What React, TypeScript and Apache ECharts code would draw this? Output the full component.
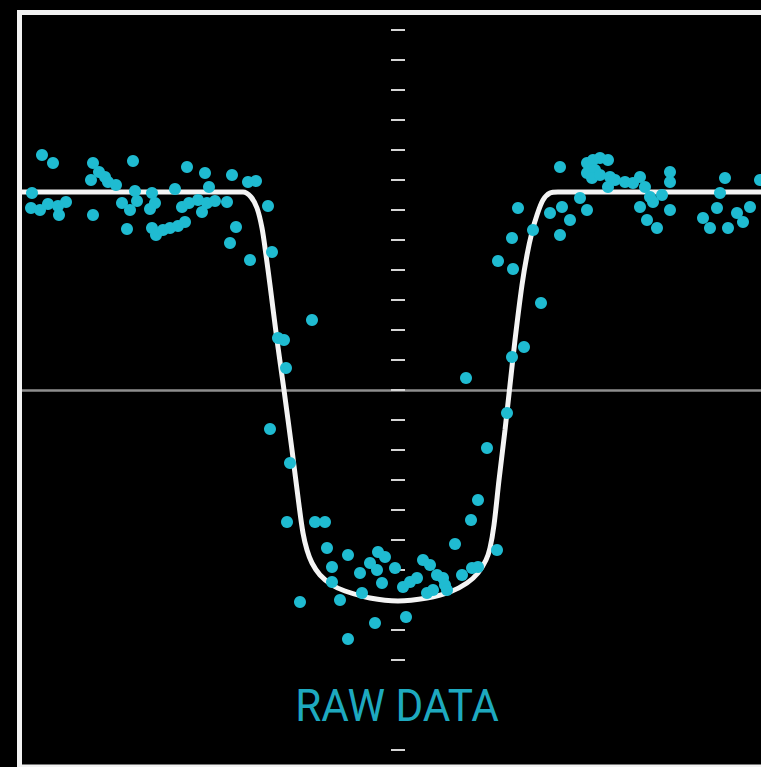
import { useEffect, useRef } from "react";
import * as echarts from "echarts";

// Time axis: minutes from mid-transit. Brightness axis: offset units, one tick every 30.
const X_MIN = -376;
const X_MAX = 363;
const Y_MIN = -360;
const Y_MAX = 360;
const Y_TICK = 30;

// Fitted transit model (white curve): [minutes, brightness]
const modelCurve: [number, number][] = [
  [-376, 198], [-155, 198], [-147, 193], [-141, 182], [-136, 162], [-132, 135],
  [-128, 105], [-121, 50], [-114, 0], [-106, -60], [-99, -115], [-95, -143],
  [-91, -160], [-86, -173], [-78, -185], [-66, -195], [-53, -201], [-28, -208],
  [0, -211], [29, -208], [52, -202], [69, -193], [80, -183], [88, -170],
  [92, -158], [96, -135], [101, -90], [107, -40], [112, 5], [117, 50],
  [124, 105], [129, 135], [134, 158], [139, 175], [145, 190], [152, 197],
  [160, 198], [363, 198],
];

// Measurements before the transit
const preTransit: [number, number][] = [
  [-356, 235], [-345, 227], [-305, 227], [-299, 218], [-293, 213], [-307, 210],
  [-290, 208], [-282, 205], [-265, 229], [-211, 223], [-193, 217], [-166, 215],
  [-150, 208], [-142, 209], [-366, 197], [-367, 182], [-358, 180], [-350, 186],
  [-340, 184], [-332, 188], [-339, 175], [-305, 175], [-276, 187], [-268, 180],
  [-263, 199], [-261, 189], [-271, 161], [-246, 197], [-243, 187], [-248, 181],
  [-246, 162], [-242, 155], [-235, 160], [-228, 162], [-220, 164], [-213, 168],
  [-223, 201], [-216, 183], [-209, 187], [-200, 190], [-191, 187], [-189, 203],
  [-196, 178], [-183, 189], [-171, 188], [-162, 163], [-168, 147], [-148, 130],
  [-130, 184], [-126, 138],
];

// Measurements during ingress, the dip and egress
const inTransit: [number, number][] = [
  [-86, 70], [-120, 52], [-114, 50], [-112, 22], [-128, -39], [-108, -73],
  [-111, -132], [-83, -132], [-73, -132], [-71, -158], [-50, -165], [-66, -177],
  [-66, -192], [-98, -212], [-58, -210], [-36, -203], [-38, -183], [-28, -173],
  [-20, -162], [-13, -167], [-21, -180], [-16, -193], [-3, -178], [-23, -233],
  [-50, -249], [8, -227], [5, -197], [12, -192], [19, -188], [25, -170],
  [32, -175], [39, -185], [45, -188], [47, -195], [35, -200], [29, -203],
  [49, -200], [64, -185], [74, -178], [80, -177], [57, -154], [73, -130],
  [99, -160], [80, -110], [89, -58], [109, -23], [68, 12], [114, 33],
  [126, 43], [143, 87], [115, 121], [100, 129], [114, 152],
];

// Measurements after the transit
const postTransit: [number, number][] = [
  [120, 182], [135, 160], [152, 177], [164, 183], [172, 170], [162, 155],
  [162, 223], [189, 227], [195, 230], [202, 232], [210, 230], [189, 217],
  [197, 220], [194, 212], [202, 215], [212, 213], [217, 210], [210, 203],
  [182, 192], [189, 180], [227, 208], [235, 207], [242, 213], [247, 203],
  [252, 193], [255, 188], [242, 183], [249, 170], [259, 162], [264, 195],
  [272, 218], [272, 208], [272, 180], [327, 212], [322, 197], [319, 182],
  [305, 172], [312, 162], [330, 162], [339, 177], [345, 168], [352, 183],
  [362, 210],
];

const TITLE = "RAW DATA";
const DOT_COLOR = "#1fbbd1";
const TITLE_COLOR = "#1ea9bf";

function tickAxis(position: "left" | "right") {
  return {
    type: "value" as const,
    min: Y_MIN,
    max: Y_MAX,
    interval: Y_TICK,
    position,
    axisLine: { show: false, onZero: true, onZeroAxisIndex: 0 },
    axisTick: { show: true, length: 7, lineStyle: { color: "#d4d4d4", width: 2 } },
    axisLabel: { show: false },
    splitLine: { show: false },
  };
}

export default function App() {
  const ref = useRef<HTMLDivElement>(null);

  useEffect(() => {
    document.body.style.margin = "0";
    document.body.style.background = "#000";
    if (!ref.current) return;
    const chart = echarts.init(ref.current, undefined, { renderer: "svg" });

    chart.setOption({
      animation: false,
      backgroundColor: "#000",
      grid: { left: 22, right: 0, top: 30, bottom: 17 },
      xAxis: {
        type: "value",
        min: X_MIN,
        max: X_MAX,
        axisLine: { show: true, onZero: true, lineStyle: { color: "#8e8e8e", width: 2.5 } },
        axisTick: { show: false },
        axisLabel: { show: false },
        splitLine: { show: false },
      },
      yAxis: [tickAxis("left"), tickAxis("right")],
      series: [
        {
          type: "line",
          data: modelCurve,
          smooth: 0.3,
          symbol: "none",
          lineStyle: { color: "#f4f4f4", width: 5 },
          z: 2,
        },
        {
          type: "scatter",
          data: [...preTransit, ...inTransit, ...postTransit],
          symbol: "circle",
          symbolSize: 12,
          itemStyle: { color: DOT_COLOR, opacity: 1 },
          z: 3,
        },
      ],
      graphic: [
        {
          type: "rect",
          shape: { x: 19.5, y: 12.5, width: 800, height: 754.5 },
          style: { fill: "none", stroke: "#f2f2f2", lineWidth: 5 },
          z: 50,
        },
        {
          type: "text",
          x: 397,
          y: 706,
          scaleX: 0.94,
          z: 60,
          style: {
            text: TITLE,
            fontFamily: "Roboto",
            fontSize: 45,
            fontWeight: 400,
            fill: TITLE_COLOR,
            align: "center",
            verticalAlign: "middle",
            backgroundColor: "#000",
            padding: [2, 6],
          },
        },
      ],
    });

    return () => chart.dispose();
  }, []);

  return <div ref={ref} style={{ width: 761, height: 767 }} />;
}
